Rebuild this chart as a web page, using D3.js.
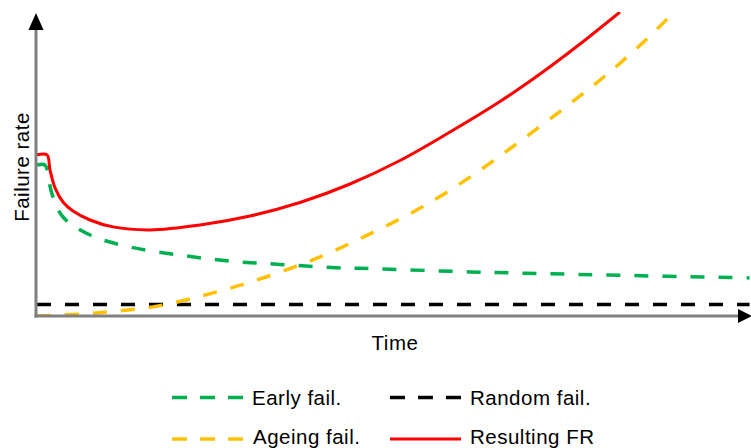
<!DOCTYPE html>
<html>
<head>
<meta charset="utf-8">
<script src="https://cdn.jsdelivr.net/npm/d3@7/dist/d3.min.js"></script>
<style>
  html, body { margin: 0; padding: 0; background: #fff; }
  svg { display: block; font-family: "Liberation Sans", Arial, sans-serif; }
</style>
</head>
<body>
<svg id="chart" width="751" height="448"></svg>
<script>
// ---- Data (Time 0–100, Failure rate 0–100) ----
const earlyFail = [
  [0.14, 50.3], [1.27, 50.3], [1.83, 45.0], [2.25, 40.7], [3.8, 33.0], [7.61, 27.0],
  [13.24, 23.0], [20.28, 20.3], [27.32, 18.3], [34.37, 17.2], [43.1, 16.0],
  [47.04, 15.8], [61.13, 14.7], [68.17, 14.3], [79.44, 13.7], [100.5, 12.7]
];
const randomFail = [[0.14, 3.8], [100.5, 3.8]];
const ageingFail = [
  [0.14, 0], [8.45, 1.0], [17.04, 3.3], [24.93, 7.7], [32.39, 13.0], [40.0, 19.7],
  [47.32, 27.7], [54.37, 36.3], [61.13, 46.3], [67.46, 57.0], [74.08, 68.7],
  [80.14, 80.0], [86.2, 92.7], [89.72, 101.0]
];
const resultingFR = [
  [0.14, 53.7], [1.55, 53.7], [1.97, 48.7], [2.68, 42.7], [3.8, 38.0], [5.21, 35.0],
  [7.61, 32.0], [10.85, 29.7], [16.06, 28.7], [23.1, 30.33], [30.14, 33.33],
  [37.18, 37.83], [44.23, 44.0], [51.27, 51.83], [58.31, 61.33], [65.35, 71.5],
  [70.99, 80.67], [76.62, 90.67], [82.25, 101.33]
];
const seriesNames = ["Early fail.", "Random fail.", "Ageing fail.", "Resulting FR"];
const seriesColors = ["#00B050", "#000000", "#FFC000", "#FF0000"];
const xTitle = "Time";
const yTitle = "Failure rate";

// ---- Drawing ----
const svg = d3.select("#chart");
const x = d3.scaleLinear().domain([0, 100]).range([36, 746]);
const y = d3.scaleLinear().domain([0, 100]).range([316, 16]);

svg.append("defs").append("clipPath").attr("id", "plotclip")
  .append("rect").attr("x", 37).attr("y", 12).attr("width", 714).attr("height", 304);

const line = d3.line().x(d => x(d[0])).y(d => y(d[1])).curve(d3.curveCatmullRom.alpha(0.5));

const series = [
  { data: earlyFail, color: seriesColors[0], dash: "14,14", width: 3.5 },
  { data: randomFail, color: seriesColors[1], dash: "14,14", width: 3.5 },
  { data: ageingFail, color: seriesColors[2], dash: "14,14", width: 3.5 },
  { data: resultingFR, color: seriesColors[3], dash: null, width: 3 }
];

const g = svg.append("g").attr("clip-path", "url(#plotclip)");
series.forEach(s => {
  g.append("path").datum(s.data)
    .attr("d", line)
    .attr("fill", "none")
    .attr("stroke", s.color)
    .attr("stroke-width", s.width)
    .attr("stroke-dasharray", s.dash);
});

// axes
const axisColor = "#808080";
svg.append("line").attr("x1", x(0)).attr("x2", x(0)).attr("y1", y(0) + 1.5).attr("y2", 28)
  .attr("stroke", axisColor).attr("stroke-width", 3);
svg.append("line").attr("x1", x(0) - 1.5).attr("x2", 740).attr("y1", y(0)).attr("y2", y(0))
  .attr("stroke", axisColor).attr("stroke-width", 3);
svg.append("path").attr("d", `M${x(0)},13 L${x(0) - 7.5},30 L${x(0) + 7.5},30 Z`).attr("fill", "#000");
svg.append("path").attr("d", `M752,${y(0)} L738,${y(0) - 7} L738,${y(0) + 7} Z`).attr("fill", "#000");

// axis titles
const fontSize = 20.5, spacing = 0.5;
svg.append("text").attr("x", 395).attr("y", 349.5).attr("text-anchor", "middle")
  .attr("font-size", fontSize).attr("letter-spacing", spacing).attr("fill", "#000").text(xTitle);
svg.append("text").attr("transform", "translate(28.5,167) rotate(-90)").attr("text-anchor", "middle")
  .attr("font-size", fontSize).attr("letter-spacing", spacing).attr("fill", "#000").text(yTitle);

// legend
const legendPos = [
  { lx: 172, ly: 397.5, tx: 252, ty: 405 }, { lx: 390, ly: 397.5, tx: 470, ty: 405 },
  { lx: 172, ly: 439, tx: 253, ty: 443.5 }, { lx: 390, ly: 439, tx: 470, ty: 443.5 }
];
series.forEach((s, i) => {
  const p = legendPos[i];
  svg.append("line").attr("x1", p.lx).attr("x2", p.lx + 71).attr("y1", p.ly).attr("y2", p.ly)
    .attr("stroke", s.color).attr("stroke-width", s.width)
    .attr("stroke-dasharray", s.dash ? "15,13" : null);
  svg.append("text").attr("x", p.tx).attr("y", p.ty)
    .attr("font-size", fontSize).attr("letter-spacing", spacing).attr("fill", "#000").text(seriesNames[i]);
});
</script>
</body>
</html>
